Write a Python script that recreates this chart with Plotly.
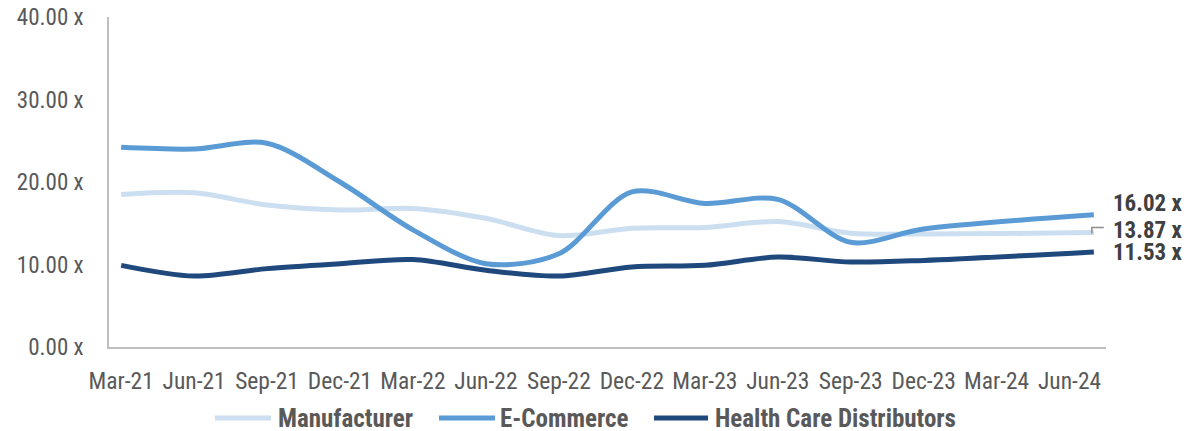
import plotly.graph_objects as go

# ---- data ----
tick_labels = ["Mar-21", "Jun-21", "Sep-21", "Dec-21", "Mar-22", "Jun-22", "Sep-22",
               "Dec-22", "Mar-23", "Jun-23", "Sep-23", "Dec-23", "Mar-24", "Jun-24"]
tick_months = [0, 3, 6, 9, 12, 15, 18, 21, 24, 27, 30, 33, 36, 39]
x_months = [0, 3, 6, 9, 12, 15, 18, 21, 24, 27, 30, 33, 40]
manufacturer = [18.5, 18.7, 17.2, 16.6, 16.8, 15.6, 13.5, 14.4, 14.5, 15.2, 13.8, 13.7, 13.87]
ecommerce = [24.2, 24.0, 24.7, 20.0, 14.2, 10.1, 11.3, 18.8, 17.4, 17.9, 12.7, 14.3, 16.02]
healthcare = [9.9, 8.6, 9.5, 10.1, 10.6, 9.3, 8.6, 9.7, 9.9, 10.9, 10.3, 10.5, 11.53]
series_names = ["Manufacturer", "E-Commerce", "Health Care Distributors"]
end_labels = ["13.87 x", "16.02 x", "11.53 x"]
y_ticks = [0, 10, 20, 30, 40]
y_tick_labels = ["0.00 x", "10.00 x", "20.00 x", "30.00 x", "40.00 x"]

colors = ["#CCDFF0", "#5B9BD5", "#1F487C"]
FONT = "Roboto Condensed, Arial Narrow, sans-serif"

# page body has an 8px margin, so figure pixel = window pixel - 8
OFF = 8
W, H = 1203 - OFF, 431 - OFF
L, R, T, B = 109 - OFF, 97, 17 - OFF, 84
pw = W - L - R
ph = H - T - B

def px2paper_x(px):
    return (px - OFF - L) / pw

def px2paper_y(py):
    return (H - B - (py - OFF)) / ph

fig = go.Figure()
for name, vals, col in zip(series_names, [manufacturer, ecommerce, healthcare], colors):
    fig.add_trace(go.Scatter(x=x_months, y=vals, mode="lines", name=name,
                             line=dict(color=col, width=5, shape="spline", smoothing=0.9),
                             showlegend=False, hoverinfo="x+y"))

# end labels
yshifts = [2, 11, -1]
for vals, lab, ys in zip([manufacturer, ecommerce, healthcare], end_labels, yshifts):
    fig.add_annotation(x=x_months[-1], y=vals[-1], text=lab, showarrow=False,
                       xanchor="left", yanchor="middle", xshift=17, yshift=ys,
                       font=dict(family=FONT, size=23, color="#404040", weight="bold"))

# leader line for middle label
fig.add_shape(type="path", xref="x", yref="y", xsizemode="pixel", ysizemode="pixel",
              xanchor=x_months[-1], yanchor=manufacturer[-1],
              path="M -2,-1 L -2,5 L 10,5", line=dict(color="#8C8C8C", width=1.5))

# manual legend
leg_items = [(215, 271, 276), (439, 495, 498), (654, 708, 713)]
ly = px2paper_y(418)
for (a, b, t), name, col in zip(leg_items, series_names, colors):
    fig.add_shape(type="line", xref="paper", yref="paper",
                  x0=px2paper_x(a), x1=px2paper_x(b), y0=ly, y1=ly,
                  line=dict(color=col, width=5))
    fig.add_annotation(xref="paper", yref="paper", x=px2paper_x(t), y=ly, text=name,
                       showarrow=False, xanchor="left", yanchor="middle",
                       font=dict(family=FONT, size=25, color="#595959", weight="bold"))

fig.update_layout(
    width=W, height=H,
    margin=dict(l=L, r=R, t=T, b=B, autoexpand=False),
    paper_bgcolor="white", plot_bgcolor="white",
    font=dict(family=FONT, size=23, color="#595959"),
    xaxis=dict(range=[-0.5, 40.5], tickvals=tick_months, ticktext=tick_labels,
               showgrid=False, zeroline=False, showline=True, linecolor="#BFBFBF",
               linewidth=1.5, ticks="", ticklabelstandoff=12, automargin=False,
               tickangle=0, ticklabeloverflow="allow",
               tickfont=dict(family=FONT, size=23.5, color="#595959")),
    yaxis=dict(range=[0, 40], tickvals=y_ticks, ticktext=y_tick_labels,
               showgrid=False, zeroline=False, showline=True, linecolor="#BFBFBF",
               linewidth=1.5, ticks="", ticklabelstandoff=19, automargin=False,
               ticklabeloverflow="allow",
               tickfont=dict(family=FONT, size=23, color="#595959")),
)

fig.write_html("out.html")
